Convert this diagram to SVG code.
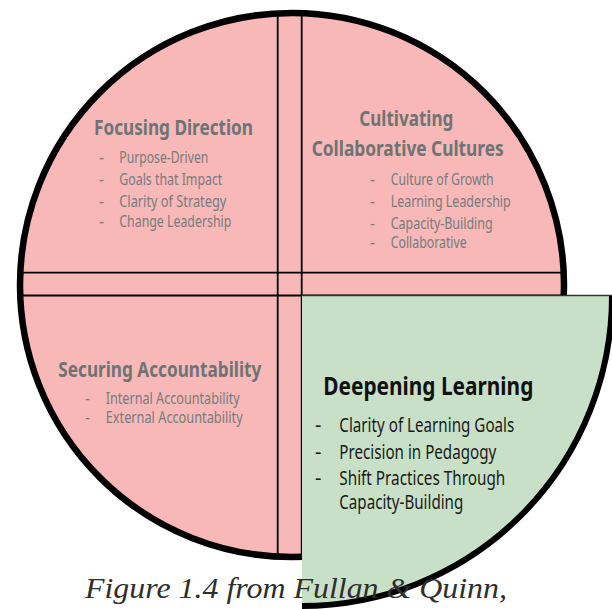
<svg xmlns="http://www.w3.org/2000/svg" width="612" height="609" viewBox="0 0 612 609">
  <style>
    .hd { font-family: "Noto Sans", "Open Sans", sans-serif; font-weight: bold; fill: #6e7373; }
    .it { font-family: "Noto Sans", "Open Sans", sans-serif; font-size: 15.5px; fill: #767b7b; }
    .hdk { font-family: "Noto Sans", "Open Sans", sans-serif; font-weight: bold; font-size: 25.5px; fill: #111; }
    .itk { font-family: "Noto Sans", "Open Sans", sans-serif; font-size: 20px; fill: #1a1a1a; }
    .band { stroke: #000; stroke-width: 1.8; fill: none; }
    .cap { font-family: "Liberation Serif", serif; font-style: italic; font-size: 30px; fill: #2e2e2e; }
  </style>
  <defs>
    <clipPath id="circ">
      <circle cx="292" cy="285" r="272"/>
    </clipPath>
  </defs>
  <rect width="612" height="609" fill="#fff"/>

  <g id="circle-base">
    <circle cx="292" cy="285" r="272" fill="#f8b8b8"/>
  </g>

  <g id="connectors" clip-path="url(#circ)">
    <line class="band" x1="277.7" y1="0" x2="277.7" y2="609"/>
    <line class="band" x1="301.7" y1="0" x2="301.7" y2="609"/>
    <line class="band" x1="0" y1="272.7" x2="612" y2="272.7"/>
    <line class="band" x1="0" y1="295.5" x2="612" y2="295.5"/>
  </g>
  <circle cx="292" cy="285" r="272" fill="none" stroke="#000" stroke-width="6.5"/>

  <g id="focusing-direction">
    <text class="hd" x="94" y="135" font-size="20.5" textLength="159" lengthAdjust="spacingAndGlyphs">Focusing Direction</text>
    <text class="it" x="99" y="163">-</text>
    <text class="it" x="119.3" y="163" textLength="89" lengthAdjust="spacingAndGlyphs">Purpose-Driven</text>
    <text class="it" x="99" y="185">-</text>
    <text class="it" x="119.3" y="185" textLength="103" lengthAdjust="spacingAndGlyphs">Goals that Impact</text>
    <text class="it" x="99" y="206.5">-</text>
    <text class="it" x="119.3" y="206.5" textLength="107" lengthAdjust="spacingAndGlyphs">Clarity of Strategy</text>
    <text class="it" x="99" y="226.5">-</text>
    <text class="it" x="119.3" y="226.5" textLength="112" lengthAdjust="spacingAndGlyphs">Change Leadership</text>
  </g>

  <g id="cultivating-collaborative-cultures">
    <text class="hd" x="359.3" y="125.5" font-size="20.5" textLength="94" lengthAdjust="spacingAndGlyphs">Cultivating</text>
    <text class="hd" x="311.7" y="156" font-size="20.5" textLength="192" lengthAdjust="spacingAndGlyphs">Collaborative Cultures</text>
    <text class="it" x="370" y="185">-</text>
    <text class="it" x="390.7" y="185" textLength="103" lengthAdjust="spacingAndGlyphs">Culture of Growth</text>
    <text class="it" x="370" y="206.7">-</text>
    <text class="it" x="390.7" y="206.7" textLength="120" lengthAdjust="spacingAndGlyphs">Learning Leadership</text>
    <text class="it" x="370" y="228.8">-</text>
    <text class="it" x="390.7" y="228.8" textLength="102" lengthAdjust="spacingAndGlyphs">Capacity-Building</text>
    <text class="it" x="370" y="248">-</text>
    <text class="it" x="390.7" y="248" textLength="76" lengthAdjust="spacingAndGlyphs">Collaborative</text>
  </g>

  <g id="securing-accountability">
    <text class="hd" x="58.3" y="376.5" font-size="20.5" textLength="203" lengthAdjust="spacingAndGlyphs">Securing Accountability</text>
    <text class="it" x="85" y="404">-</text>
    <text class="it" x="105.7" y="404" textLength="134" lengthAdjust="spacingAndGlyphs">Internal Accountability</text>
    <text class="it" x="85" y="423.3">-</text>
    <text class="it" x="105.7" y="423.3" textLength="137" lengthAdjust="spacingAndGlyphs">External Accountability</text>
  </g>

  <g id="deepening-learning">
    <path d="M302,296 L612,296 A310,310 0 0 1 302,606 Z" fill="#c9e0c8"/>
    <line x1="302" y1="295.5" x2="612" y2="295.5" stroke="#333" stroke-width="1.5"/>
    <path d="M612,296 A310,310 0 0 1 302,606" fill="none" stroke="#000" stroke-width="6"/>
    <text class="hdk" x="323.3" y="395" textLength="210" lengthAdjust="spacingAndGlyphs">Deepening Learning</text>
    <text class="itk" x="315" y="432">-</text>
    <text class="itk" x="339.3" y="432" textLength="175" lengthAdjust="spacingAndGlyphs">Clarity of Learning Goals</text>
    <text class="itk" x="315" y="458.5">-</text>
    <text class="itk" x="339.3" y="458.5" textLength="157" lengthAdjust="spacingAndGlyphs">Precision in Pedagogy</text>
    <text class="itk" x="315" y="485">-</text>
    <text class="itk" x="339.3" y="485" textLength="166" lengthAdjust="spacingAndGlyphs">Shift Practices Through</text>
    <text class="itk" x="339.3" y="509" textLength="124" lengthAdjust="spacingAndGlyphs">Capacity-Building</text>
  </g>

  <g id="caption">
    <text class="cap" x="85" y="598" textLength="422" lengthAdjust="spacingAndGlyphs">Figure 1.4 from Fullan &amp; Quinn,</text>
  </g>
</svg>
